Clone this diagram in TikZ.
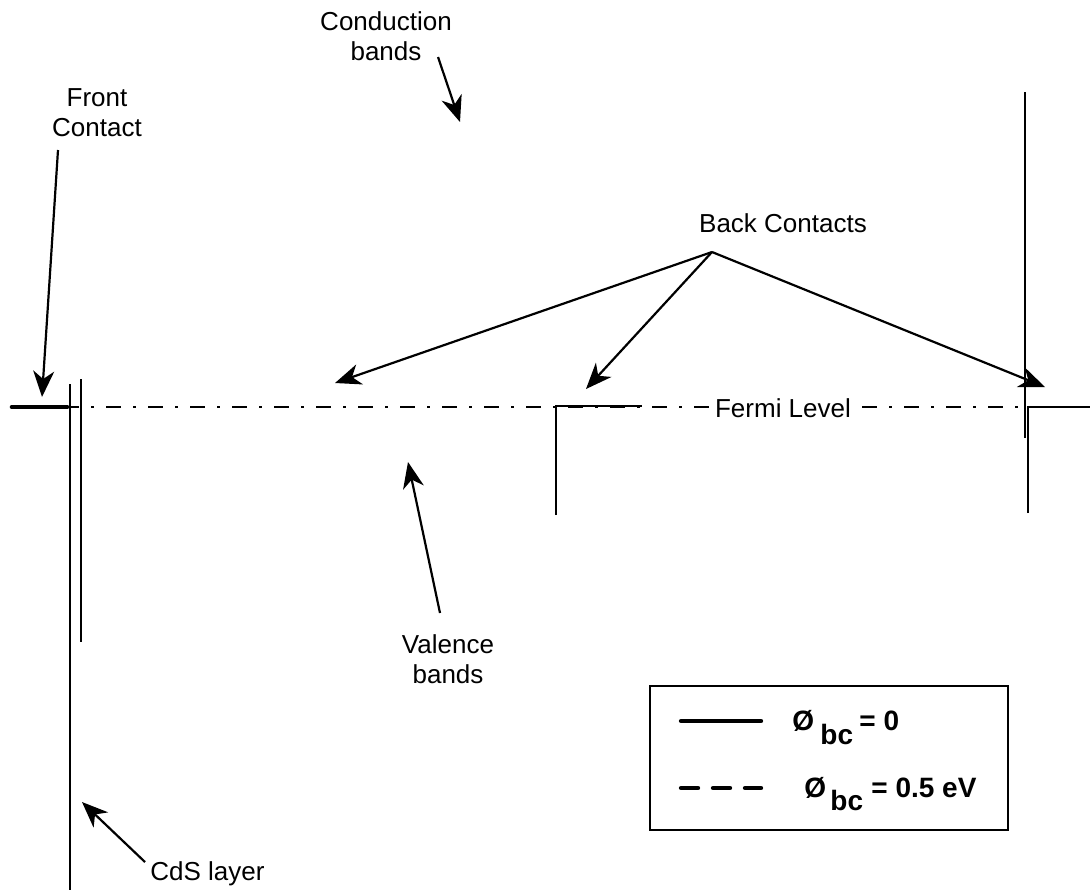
\documentclass[tikz,border=0pt]{standalone}
\usepackage{fontspec}
\setmainfont{Liberation Sans}
\usetikzlibrary{arrows.meta}
\begin{document}
\begin{tikzpicture}[x=0.5pt,y=-0.5pt,
  band/.style={line width=1pt},
  pointer/.style={line width=1.1pt,-{Stealth[length=13pt,width=10.5pt,inset=4pt]}},
  label/.style={font=\fontsize{13}{15}\selectfont, align=center, inner sep=0pt},
  fermi/.style={line width=1.2pt, dash pattern=on 7.5pt off 6pt on 1.5pt off 6pt, dash phase=3pt},
  legtext/.style={font=\fontsize{14}{16}\selectfont\bfseries, inner sep=0pt, anchor=base west},
]
\useasboundingbox (0,0) rectangle (1090,890);

% Fermi level
\draw[fermi] (70,407) -- (1025,407);
\node[label, fill=white, inner xsep=0.3pt, inner ysep=2pt, anchor=base] (fermi) at (783,417) {Fermi Level};

% front contact and CdS layer
\draw[line width=2.3pt, line cap=round] (12,407) -- (67,407);
\draw[band] (70,384) -- (70,890);
\draw[band] (81,379) -- (81,642);

% middle back contact step
\draw[band] (556,515) -- (556,406) -- (642,406);

% right back contact step
\draw[band] (1025,92) -- (1025,438);
\draw[band] (1028,513) -- (1028,407) -- (1090,407);

% labels
\node[label] (cond) at (386,36) {Conduction\\bands};
\node[label] (front) at (97,113) {Front\\Contact};
\node[label, anchor=base] (back) at (783,232) {Back Contacts};
\node[label] (val) at (448,659) {Valence\\bands};
\node[label, anchor=base west] (cds) at (150,880) {CdS layer};

% pointer ends
\coordinate (condtail) at (438,57);
\coordinate (condtip) at (460,122);
\coordinate (fronttail) at (58,150);
\coordinate (fronttip) at (42,397);
\coordinate (backhub) at (712,252);
\coordinate (backtipA) at (335,383);
\coordinate (backtipB) at (586,389);
\coordinate (backtipC) at (1045,387);
\coordinate (valtail) at (440,613);
\coordinate (valtip) at (408,462);
\coordinate (cdstail) at (145,862);
\coordinate (cdstip) at (82,802);

\draw[pointer] (condtail) -- (condtip);
\draw[pointer] (fronttail) -- (fronttip);
\draw[pointer] (backhub) -- (backtipA);
\draw[pointer] (backhub) -- (backtipB);
\draw[pointer] (backhub) -- (backtipC);
\draw[pointer] (valtail) -- (valtip);
\draw[pointer] (cdstail) -- (cdstip);

% legend
\node[draw, line width=1.2pt, minimum width=179pt, minimum height=72pt, inner sep=0pt] (legend) at (829,758) {};
\draw[line width=2.2pt, line cap=round] (681,721) -- (761,721);
\draw[line width=2.2pt, line cap=round, dash pattern=on 8.5pt off 7.5pt] (681,788) -- (761,788);
\node[legtext] (phiA) at (792,730) {Ø};
\node[legtext] (subA) at (820,744) {bc};
\node[legtext] (valA) at (859,730) {= 0};
\node[legtext] (phiB) at (804,797) {Ø};
\node[legtext] (subB) at (830,810) {bc};
\node[legtext] (valB) at (871,797) {= 0.5 eV};
\end{tikzpicture}
\end{document}
